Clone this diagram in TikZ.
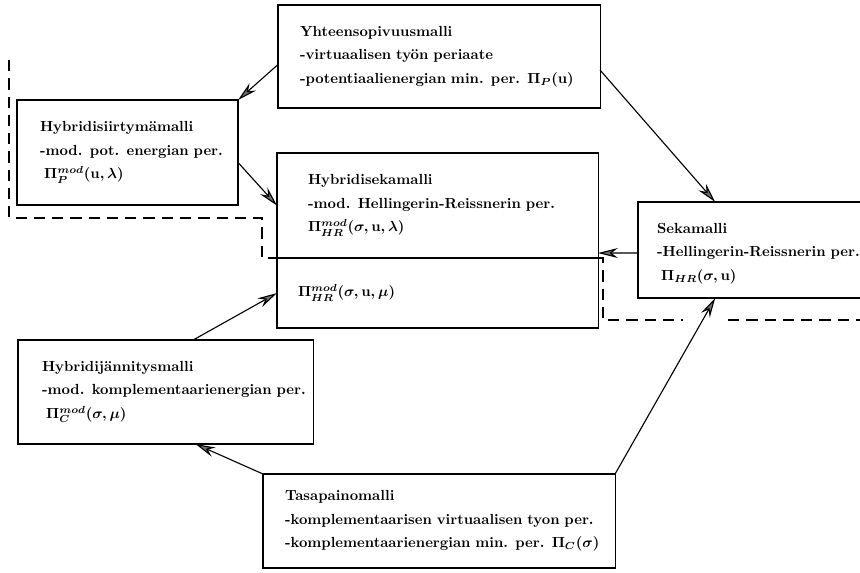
\RequirePackage{fix-cm}
\documentclass[tikz,border=0pt]{standalone}
\usepackage{fontspec}
\usepackage{tikz}
\usetikzlibrary{positioning, arrows.meta, calc}

\begin{document}
\begin{tikzpicture}[
    x=0.025cm, y=-0.025cm,
    >=Stealth,
    box/.style={rectangle, draw, line width=0.8pt, outer sep=0pt, anchor=north west,
                align=left, inner sep=0pt,
                font=\fontsize{10.4}{16.7}\selectfont\bfseries\boldmath},
    pad/.style={execute at begin node={\leftskip=#1\relax}},
    arr/.style={->, line width=0.8pt, >={Stealth[length=14pt, width=7pt, fill=black!55]}},
    frame/.style={line width=0.8pt, dash pattern=on 8pt off 5pt},
  ]
  \useasboundingbox (0,0) rectangle (860,572);

  \node[box, pad=0.55cm, text width=8.05cm, minimum height=2.575cm] (yhteen) at (278,5)
    {Yhteensopivuusmalli\\-virtuaalisen työn periaate\\-potentiaalienergian min. per. $\Pi_P(\mathbf{u})$};
  \node[box, pad=0.575cm, text width=5.525cm, minimum height=2.625cm] (hsiirt) at (17,100)
    {Hybridisiirtymämalli\\-mod. pot. energian per.\\\hspace*{3pt}$\Pi^{mod}_P(\mathbf{u},\lambda)$};
  \node[box, pad=0.775cm, text width=8.025cm, minimum height=2.625cm] (hseka) at (277,153)
    {Hybridisekamalli\\-mod. Hellingerin-Reissnerin per.\\$\Pi^{mod}_{HR}(\sigma,\mathbf{u},\lambda)$};
  \node[box, anchor=north, pad=0.525cm, text width=8.025cm, minimum height=1.75cm,
        below=0pt of hseka] (hsekb)
    {$\Pi^{mod}_{HR}(\sigma,\mathbf{u},\mu)$};
  \node[box, pad=0.475cm, text width=5.65cm, minimum height=2.4cm] (seka) at (638,202)
    {\rule{0pt}{12pt}Sekamalli\\-Hellingerin-Reissnerin per.\\\hspace*{3pt}$\Pi_{HR}(\sigma,\mathbf{u})$};
  \node[box, pad=0.6cm, text width=7.375cm, minimum height=2.6cm] (hjann) at (18,340)
    {Hybridijännitysmalli\\-mod. komplementaarienergian per.\\\hspace*{3pt}$\Pi^{mod}_C(\sigma,\mu)$};
  \node[box, pad=0.55cm, text width=8.8cm, minimum height=2.35cm] (tasap) at (263,474)
    {Tasapainomalli\\-komplementaarisen virtuaalisen tyon per.\\-komplementaarienergian min. per. $\Pi_C(\sigma)$};

  \draw[arr] ([yshift=-0.2cm]yhteen.west) -- (hsiirt.north east);
  \draw[arr] ([yshift=-0.25cm]hsiirt.east) -- (hseka.west);
  \draw[arr] ([yshift=-0.34cm]yhteen.east) -- ([xshift=1.93cm]seka.north west);
  \draw[arr] ([yshift=-0.075cm]seka.west) -- ([yshift=0.125cm]hseka.south east);
  \draw[arr] (tasap.north east) -- ([xshift=1.93cm]seka.south west);
  \draw[arr] ([xshift=0.69cm]hjann.north) -- (hsekb.west);
  \draw[arr] (tasap.north west) -- ([xshift=0.75cm]hjann.south);

  \draw[frame] (9,60) -- (9,218) -- (262,218) -- (262,258) -- (603,258) -- (603,320) -- (683,320);
  \draw[frame] (728,320) -- (862,320);
\end{tikzpicture}
\end{document}
